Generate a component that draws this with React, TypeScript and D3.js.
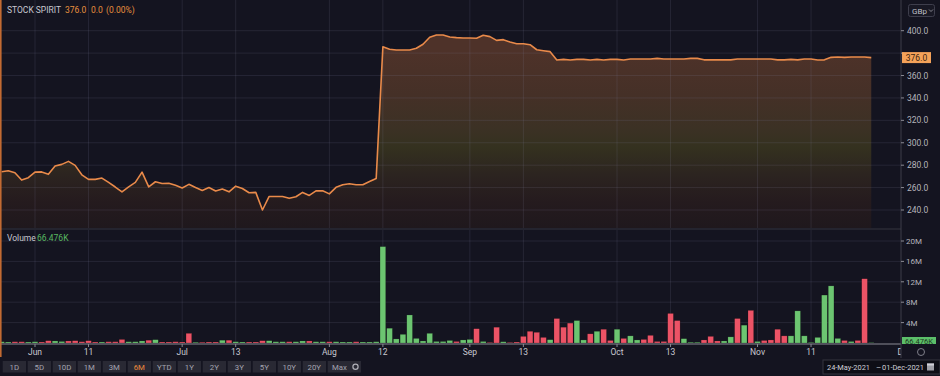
import React from "react";
import * as d3 from "d3";

// ---------- DATA ----------
const startDay = "2021-05-24";
const lastAxisDay = "2021-12-01";
const holidays = ["2021-05-31", "2021-08-30"];

const closes: number[] = [
  274.1, 275, 273.2, 266.7, 268.8, 273.8, 274, 271.8, 279.2, 280.7,
  283.4, 279.8, 271.4, 267.3, 267.3, 268.5, 264.6, 260.5, 256.2, 260.7,
  264.6, 273.8, 260.7, 265.2, 263.7, 263.9, 262, 259.6, 262.9, 260,
  257.5, 260, 257, 258.8, 256.2, 261.3, 259.2, 255.4, 255.7, 240,
  252.1, 252.1, 252.1, 250.4, 251.8, 255.7, 253, 257.1, 257.1, 254.4,
  260.2, 262.5, 263.4, 262.5, 262.5, 265.5, 268.2, 385.7, 383.4, 382.8,
  382.8, 382.8, 384.3, 387.9, 394.1, 396.2, 396.2, 394.4, 393.8, 393.5,
  393.5, 393.2, 395.9, 394.7, 391.4, 392, 389.9, 388.4, 388.4, 387.5,
  383, 382.1, 381.3, 373.8, 374.4, 373.8, 374.4, 374.4, 373.8, 374.4,
  373.8, 374.4, 374.4, 373.8, 374.7, 374.7, 374.7, 374.7, 375.3, 374.7,
  374.7, 374.7, 374.7, 375.3, 375.3, 374, 374, 374, 374, 374,
  374.7, 374.7, 374.7, 374.7, 374.7, 374.7, 374, 374, 374.4, 374,
  374.7, 374.7, 373.8, 374, 376.2, 376.5, 376.2, 376.5, 376.5, 376.5,
  376,
];

// volume in millions
const volumes: number[] = [
  0.25, 0.2, 0.25, 0.25, 0.2, 0.25, 0.2, 0.45, 0.4, 0.3,
  0.4, 0.45, 0.25, 0.45, 0.2, 0.2, 0.25, 0.25, 0.7, 0.25,
  0.25, 0.4, 0.55, 0.65, 0.2, 0.2, 0.25, 0.2, 1.9, 0.15,
  0.15, 0.2, 0.2, 0.55, 0.55, 0.25, 0.2, 0.2, 0.2, 0.45,
  0.45, 0.25, 0.25, 0.25, 0.25, 0.4, 0.4, 0.25, 0.25, 0.25,
  0.25, 0.2, 0.2, 0.25, 0.2, 0.2, 0.25, 18.9, 2.9, 0.8,
  1.7, 5.5, 0.9, 0.4, 1.9, 0.3, 0.3, 0.5, 0.3, 0.6,
  0.7, 2.8, 0.3, 0.1, 3.1, 0.25, 0.1, 0.2, 1.3, 2.3,
  2.1, 1.1, 0.65, 4.8, 3.1, 3.9, 4.4, 0.6, 1.8, 2.3,
  2.7, 0.5, 2.7, 0.9, 1.4, 0.6, 0.7, 1.5, 0.3, 0.3,
  5.8, 4.4, 0.85, 0.15, 0.15, 0.6, 1.3, 0.4, 0.4, 1.2,
  4.8, 3.5, 6.4, 0.3, 0.5, 0.6, 2.7, 1.4, 1.4, 6.3,
  1.4, 0.1, 1.1, 9.4, 11.2, 0.9, 0.5, 0.3, 0.5, 12.6,
  0.066,
];

const volumeDir: string[] = [
  "u","u","d","d","u","u","d","d","u","u",
  "d","d","d","d","d","u","d","d","d","u",
  "u","u","d","u","d","d","d","d","d","u",
  "d","d","d","u","d","u","u","d","d","d",
  "u","u","u","d","u","u","d","u","u","d",
  "u","u","u","d","u","u","u","u","u","u",
  "u","u","u","u","u","u","u","u","d","u",
  "u","d","u","d","d","u","d","d","d","d",
  "d","d","u","d","d","d","u","u","d","u",
  "d","d","u","d","u","u","d","d","d","d",
  "d","d","u","u","u","d","d","d","u","u",
  "d","u","d","u","d","d","d","d","u","u",
  "u","u","u","u","u","u","d","u","d","d",
  "u",
];

const priceTicks: number[] = [240, 260, 280, 300, 320, 340, 360, 380, 400];
const hiddenPriceLabels: number[] = [380]; // covered by the last-price box
const volumeTicks: number[] = [4, 8, 12, 16, 20];
const timeTickDates: string[] = [
  "2021-06-01", "2021-06-11", "2021-07-01", "2021-07-13", "2021-08-02", "2021-08-12",
  "2021-09-01", "2021-09-13", "2021-10-01", "2021-10-13", "2021-11-01", "2021-11-11", "2021-12-01",
];
const timeTickLabels: string[] = ["Jun", "11", "Jul", "13", "Aug", "12", "Sep", "13", "Oct", "13", "Nov", "11", "Dec"];
const rangeButtons: string[] = ["1D", "5D", "10D", "1M", "3M", "6M", "YTD", "1Y", "2Y", "3Y", "5Y", "10Y", "20Y", "Max"];

// ---------- HELPERS ----------
function iso(d: Date) {
  const m = String(d.getUTCMonth() + 1).padStart(2, "0");
  const dd = String(d.getUTCDate()).padStart(2, "0");
  return `${d.getUTCFullYear()}-${m}-${dd}`;
}
function tradingDays(start: string, end: string): string[] {
  const out: string[] = [];
  const d = new Date(start + "T00:00:00Z");
  const e = new Date(end + "T00:00:00Z");
  while (d <= e) {
    const wd = d.getUTCDay();
    const s = iso(d);
    if (wd !== 0 && wd !== 6 && !holidays.includes(s)) out.push(s);
    d.setUTCDate(d.getUTCDate() + 1);
  }
  return out;
}

const W = 940;
const H = 376;
const AXIS_X = 901;
const PRICE_BOTTOM = 228;
const VOL_BASE = 343;
const FONT = "Roboto, 'Open Sans', Arial, sans-serif";

export default function App() {
  const days = tradingDays(startDay, lastAxisDay);
  const x = d3.scalePoint<string>().domain(days).range([1.55, 904.7]);
  const y = d3.scaleLinear().domain([240, 400]).range([210, 30.7]);
  const yv = d3.scaleLinear().domain([0, 20]).range([VOL_BASE, 241]);

  const pts = closes.map((c, i) => ({ d: days[i], c }));
  const line = d3.line<{ d: string; c: number }>().x((p) => x(p.d)!).y((p) => y(p.c));
  const area = d3
    .area<{ d: string; c: number }>()
    .x((p) => x(p.d)!)
    .y0(PRICE_BOTTOM)
    .y1((p) => y(p.c));

  const barW = 5.7;
  const grid = "rgba(130,130,160,0.16)";
  const labelCol = "#b4b4bc";
  const last = closes[closes.length - 1];

  return (
    <svg
      width={W}
      height={H}
      style={{ position: "fixed", left: 0, top: 0, display: "block" }}
      fontFamily={FONT}
    >
      <defs>
        <linearGradient id="pg" gradientUnits="userSpaceOnUse" x1="0" y1="50" x2="0" y2="228">
          <stop offset="0" stopColor="#4e3229" />
          <stop offset="0.25" stopColor="#453027" />
          <stop offset="0.45" stopColor="#3b3124" />
          <stop offset="0.55" stopColor="#34311f" />
          <stop offset="0.7" stopColor="#2c2420" />
          <stop offset="0.85" stopColor="#251b1e" />
          <stop offset="1" stopColor="#1f181d" />
        </linearGradient>
        <clipPath id="pc">
          <rect x={0} y={0} width={AXIS_X} height={PRICE_BOTTOM} />
        </clipPath>
        <clipPath id="vc">
          <rect x={0} y={230} width={AXIS_X} height={VOL_BASE - 230} />
        </clipPath>
        <clipPath id="ac">
          <rect x={0} y={344} width={AXIS_X} height={14} />
        </clipPath>
      </defs>
      <rect x={0} y={0} width={W} height={H} fill="#141420" />

      {/* price area */}
      <g clipPath="url(#pc)">
        <path d={area(pts)!} fill="url(#pg)" />
        {priceTicks.map((t) => (
          <line key={t} x1={0} x2={AXIS_X} y1={y(t)} y2={y(t)} stroke={grid} />
        ))}
        {timeTickDates.map((t) => (
          <line key={t} x1={x(t) ?? 0} x2={x(t) ?? 0} y1={0} y2={PRICE_BOTTOM} stroke={grid} />
        ))}
        <path d={line(pts)!} fill="none" stroke="#e98a4a" strokeWidth={1.6} strokeLinejoin="round" />
      </g>

      {/* panel separator */}
      <line x1={0} x2={AXIS_X} y1={229} y2={229} stroke="#34343f" strokeWidth={1.2} />

      {/* volume */}
      <g clipPath="url(#vc)">
        {volumeTicks.map((t) => (
          <line key={t} x1={0} x2={AXIS_X} y1={yv(t)} y2={yv(t)} stroke={grid} />
        ))}
        {timeTickDates.map((t) => (
          <line key={t} x1={x(t) ?? 0} x2={x(t) ?? 0} y1={230} y2={VOL_BASE} stroke={grid} />
        ))}
        {volumes.map((v, i) => (
          <rect
            key={i}
            x={x(days[i])! - barW / 2}
            y={yv(v)}
            width={barW}
            height={Math.max(VOL_BASE - yv(v), 0.8)}
            fill={volumeDir[i] === "u" ? "#6cc571" : "#ec5366"}
            stroke="rgba(0,0,0,0.35)"
            strokeWidth={0.5}
          />
        ))}
      </g>

      {/* bottom time axis line */}
      <line x1={0} x2={AXIS_X} y1={344} y2={344} stroke="#8a8a94" strokeWidth={1} />
      <g clipPath="url(#ac)">
        {timeTickDates.map((t, i) => (
          <g key={t}>
            <line x1={x(t) ?? 0} x2={x(t) ?? 0} y1={344} y2={347} stroke="#8a8a94" />
            <text x={x(t) ?? 0} y={355} fontSize={8.5} fill="#c8c8d0" textAnchor="middle">
              {timeTickLabels[i]}
            </text>
          </g>
        ))}
      </g>

      {/* left orange border */}
      <line x1={0.8} x2={0.8} y1={0} y2={357} stroke="#c26a32" strokeWidth={1.6} />

      {/* right axis */}
      <line x1={AXIS_X} x2={AXIS_X} y1={0} y2={358} stroke="#3c3c48" strokeWidth={1} />
      {priceTicks.map((t) => (
        <g key={t}>
          <line x1={AXIS_X} x2={AXIS_X + 3} y1={y(t)} y2={y(t)} stroke="#8a8a94" />
          {!hiddenPriceLabels.includes(t) && (
            <text x={AXIS_X + 6} y={y(t) + 3} fontSize={8.5} fill={labelCol}>
              {t.toFixed(1)}
            </text>
          )}
        </g>
      ))}
      {volumeTicks.map((t) => (
        <g key={t}>
          <line x1={AXIS_X} x2={AXIS_X + 3} y1={yv(t)} y2={yv(t)} stroke="#8a8a94" />
          <text x={AXIS_X + 5} y={yv(t) + 3} fontSize={8} fill={labelCol}>
            {t}M
          </text>
        </g>
      ))}

      {/* last price label */}
      <rect x={AXIS_X + 1} y={y(last) - 5.5} width={29} height={11} fill="#f4a259" />
      <text x={AXIS_X + 15.5} y={y(last) + 3} fontSize={8.5} fill="#3a2410" textAnchor="middle">
        {last.toFixed(1)}
      </text>

      {/* last volume label */}
      <rect x={AXIS_X + 1} y={337} width={34} height={7} fill="#5cbf6a" />
      <text x={AXIS_X + 18} y={343.5} fontSize={7.5} fill="#1d3a20" textAnchor="middle">
        66.476K
      </text>

      {/* GBp button */}
      <rect x={908.5} y={4.5} width={26} height={12} rx={2} fill="#181824" stroke="#3e3e4c" />
      <text x={912} y={13.5} fontSize={8} fill="#c0c0c8">
        GBp
      </text>
      <path d="M929,9.5 l2,2 l2,-2" fill="none" stroke="#a0a0a8" strokeWidth={0.8} />

      {/* header */}
      <text x={7} y={13} fontSize={8.5} fill="#c8c8d0">
        STOCK SPIRIT
      </text>
      <text x={65} y={13} fontSize={8.5} fill="#e8903e">376.0</text>
      <text x={91} y={13} fontSize={8.5} fill="#e8903e">0.0</text>
      <text x={106} y={13} fontSize={8.5} fill="#e8903e">(0.00%)</text>
      <text x={7} y={241} fontSize={8.5} fill="#c8c8d0">
        Volume
      </text>
      <text x={37} y={241} fontSize={8.5} fill="#58b860">
        66.476K
      </text>

      {/* corner gear */}
      <circle cx={921} cy={352} r={3.5} fill="none" stroke="#8a8a94" strokeWidth={0.9} />

      {/* range buttons */}
      {rangeButtons.map((b, i) => (
        <g key={b}>
          <rect x={2.7 + i * 25} y={361} width={23.3} height={11.5} fill="#292934" />
          <text
            x={2.7 + i * 25 + 11.65}
            y={369.5}
            fontSize={7.8}
            fill={b === "6M" ? "#ee8a3c" : "#a4a4b0"}
            textAnchor="middle"
          >
            {b}
          </text>
        </g>
      ))}
      <rect x={350} y={361} width={11} height={11.5} fill="#292934" />
      <circle cx={355.5} cy={366.7} r={2.6} fill="none" stroke="#b0b0b8" strokeWidth={1.2} />

      {/* date range box */}
      <rect x={823} y={360} width={117} height={14} fill="#0e0e16" stroke="#35353f" />
      <text x={827} y={370} fontSize={8} fill="#d0d0d8" textLength={43} lengthAdjust="spacingAndGlyphs">
        24-May-2021
      </text>
      <text x={876} y={370} fontSize={8} fill="#d0d0d8">–</text>
      <text x={882} y={370} fontSize={8} fill="#d0d0d8" textLength={42} lengthAdjust="spacingAndGlyphs">
        01-Dec-2021
      </text>
      <rect x={927} y={363.5} width={7} height={7} fill="#a0a0a8" />
      <rect x={927} y={363.5} width={7} height={2} fill="#d0d0d8" />
    </svg>
  );
}
